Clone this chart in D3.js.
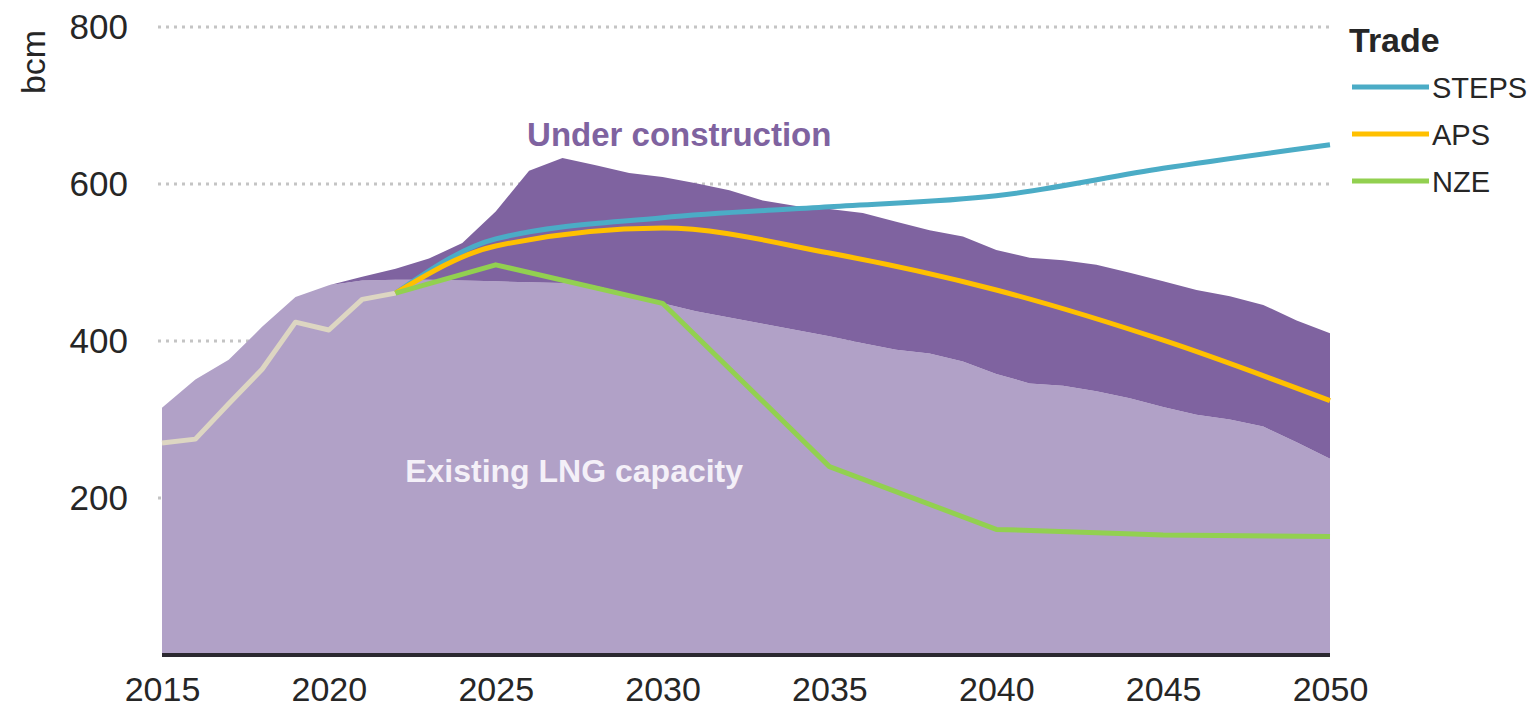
<!DOCTYPE html>
<html>
<head>
<meta charset="utf-8">
<script src="https://cdn.jsdelivr.net/npm/d3@7/dist/d3.min.js"></script>
<style>
    body { margin: 0; background: #fff; }
    svg text { font-family: "Liberation Sans", Arial, sans-serif; }
</style>
</head>
<body>
<div id="chart"></div>
<script>
// Annual LNG capacity (bcm)
const years = [2015, 2016, 2017, 2018, 2019, 2020, 2021, 2022, 2023, 2024, 2025, 2026,
    2027, 2028, 2029, 2030, 2031, 2032, 2033, 2034, 2035, 2036, 2037, 2038,
    2039, 2040, 2041, 2042, 2043, 2044, 2045, 2046, 2047, 2048, 2049, 2050];
const existing = [315, 351, 376, 418, 456, 471, 477, 478, 478, 477, 476, 475,
    474, 470, 460, 448, 438, 430, 422, 414, 406, 397, 389, 384,
    374, 358, 346, 343, 336, 327, 316, 306, 300, 291, 271, 250];
const underConstruction = [0, 0, 0, 0, 0, 0, 5, 14, 27, 48, 89, 142,
    159, 154, 154, 161, 163, 162, 157, 158, 162, 166, 163, 157,
    159, 158, 160, 160, 161, 160, 160, 159, 157, 155, 155, 160];

// Historical trade
const histYears = [2015, 2016, 2017, 2018, 2019, 2020, 2021, 2022];
const histTrade = [270, 275, 320, 364, 424, 414, 453, 461];

// Scenario trade
const scenYears = [2022, 2025, 2030, 2035, 2040, 2045, 2050];
const steps = [461, 530, 557, 571, 585, 620, 650];
const aps = [461, 521, 544, 512, 465, 401, 324];
const nze = [461, 497, 448, 240, 160, 153, 151];

const yTicks = [200, 400, 600, 800];
const xTicks = [2015, 2020, 2025, 2030, 2035, 2040, 2045, 2050];

const COLORS = {
    existing: '#b1a1c7',
    underConstruction: '#7f63a0',
    hist: '#ddd6c2',
    steps: '#4bacc6',
    aps: '#ffc000',
    nze: '#92d050',
    grid: '#c4c4c4',
    text: '#262626'
};

const W = 1532, H = 709;
const margin = { top: 27, right: 202, bottom: 54, left: 162 };
const width = W - margin.left - margin.right;
const height = H - margin.top - margin.bottom;

const svgRoot = d3.select('#chart').append('svg')
    .attr('width', W)
    .attr('height', H);
const svg = svgRoot.append('g')
    .attr('transform', `translate(${margin.left},${margin.top})`);

const x = d3.scaleLinear().domain([2015, 2050]).range([0, width]);
const y = d3.scaleLinear().domain([0, 800]).range([height, 0]);

// dotted gridlines
svg.append('g').selectAll('line')
    .data(yTicks)
    .join('line')
    .attr('x1', -4).attr('x2', width)
    .attr('y1', d => y(d)).attr('y2', d => y(d))
    .attr('stroke', COLORS.grid)
    .attr('stroke-width', 3)
    .attr('stroke-dasharray', '3,5');

// stacked capacity areas
const rows = years.map((yr, i) => ({ year: yr, existing: existing[i], underConstruction: underConstruction[i] }));
const stacked = d3.stack().keys(['existing', 'underConstruction'])(rows);
const area = d3.area()
    .x(d => x(d.data.year))
    .y0(d => y(d[0]))
    .y1(d => y(d[1]));

svg.append('g').selectAll('path')
    .data(stacked)
    .join('path')
    .attr('d', area)
    .attr('fill', d => COLORS[d.key]);

// baseline
svg.append('line')
    .attr('x1', 0).attr('x2', width)
    .attr('y1', y(0)).attr('y2', y(0))
    .attr('stroke', '#2b2830')
    .attr('stroke-width', 4);

// trade lines
const histLine = d3.line()
    .x((d, i) => x(histYears[i]))
    .y(d => y(d));
svg.append('path')
    .attr('d', histLine(histTrade))
    .attr('fill', 'none')
    .attr('stroke', COLORS.hist)
    .attr('stroke-width', 5)
    .attr('stroke-linejoin', 'round');

const scenarios = [
    { key: 'steps', values: steps, curve: d3.curveMonotoneX },
    { key: 'aps', values: aps, curve: d3.curveMonotoneX },
    { key: 'nze', values: nze, curve: d3.curveLinear }
];
scenarios.forEach(s => {
    const line = d3.line()
        .x((d, i) => x(scenYears[i]))
        .y(d => y(d))
        .curve(s.curve);
    svg.append('path')
        .attr('d', line(s.values))
        .attr('fill', 'none')
        .attr('stroke', COLORS[s.key])
        .attr('stroke-width', 5)
        .attr('stroke-linejoin', 'round');
});

// axes
const yAxis = svg.append('g')
    .call(d3.axisLeft(y).tickValues(yTicks).tickSize(0).tickPadding(34));
yAxis.select('.domain').remove();
yAxis.selectAll('text')
    .attr('font-size', 35)
    .attr('fill', COLORS.text);

const xAxis = svg.append('g')
    .attr('transform', `translate(0,${height})`)
    .call(d3.axisBottom(x).tickValues(xTicks).tickFormat(d3.format('d')).tickSize(0).tickPadding(22));
xAxis.select('.domain').remove();
xAxis.selectAll('text')
    .attr('font-size', 34)
    .attr('fill', COLORS.text);

svgRoot.append('text')
    .attr('transform', 'translate(45,62) rotate(-90)')
    .attr('text-anchor', 'middle')
    .attr('font-size', 34)
    .attr('fill', COLORS.text)
    .text('bcm');

// area labels
svg.append('text')
    .attr('x', x(2030.5)).attr('y', y(649))
    .attr('text-anchor', 'middle')
    .attr('font-size', 33)
    .attr('font-weight', 'bold')
    .attr('fill', COLORS.underConstruction)
    .text('Under construction');

svg.append('text')
    .attr('x', x(2027.35)).attr('y', y(220))
    .attr('text-anchor', 'middle')
    .attr('font-size', 32)
    .attr('font-weight', 'bold')
    .attr('fill', '#f4f0f8')
    .text('Existing LNG capacity');

// legend
const legend = svgRoot.append('g').attr('transform', 'translate(1349,0)');
legend.append('text')
    .attr('x', 0).attr('y', 52)
    .attr('font-size', 34)
    .attr('font-weight', 'bold')
    .attr('fill', COLORS.text)
    .text('Trade');

const legendItems = [
    { key: 'steps', label: 'STEPS' },
    { key: 'aps', label: 'APS' },
    { key: 'nze', label: 'NZE' }
];
const item = legend.selectAll('.item')
    .data(legendItems)
    .join('g')
    .attr('class', 'item')
    .attr('transform', (d, i) => `translate(0,${87 + i * 47})`);
item.append('line')
    .attr('x1', 3).attr('x2', 80)
    .attr('stroke', d => COLORS[d.key])
    .attr('stroke-width', 5);
item.append('text')
    .attr('x', 83).attr('y', 11)
    .attr('font-size', 29)
    .attr('fill', COLORS.text)
    .text(d => d.label);
</script>
</body>
</html>
